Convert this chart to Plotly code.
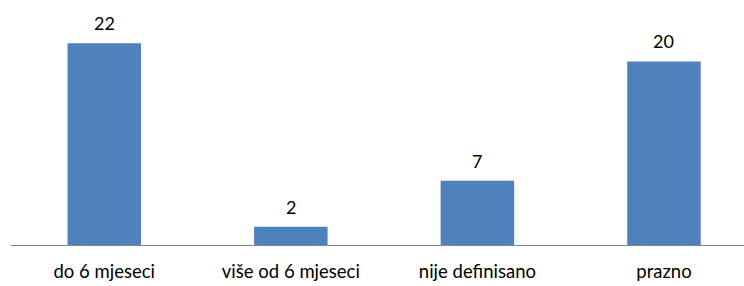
import plotly.graph_objects as go

categories = ["do 6 mjeseci", "više od 6 mjeseci", "nije definisano", "prazno"]
values = [22, 2, 7, 20]

fig = go.Figure()
fig.add_trace(go.Bar(
    x=categories, y=values,
    marker=dict(color="#4F81BD", line=dict(width=0)),
    width=0.394,
))
for c, v in zip(categories, values):
    fig.add_annotation(x=c, y=v, text=str(v), showarrow=False, yshift=20,
                       font=dict(family="Lato", size=18, color="#000000"))

fig.update_layout(
    width=744, height=286,
    margin=dict(l=11, r=0, t=0, b=41, pad=0, autoexpand=False),
    paper_bgcolor="white", plot_bgcolor="white",
    showlegend=False,
    font=dict(family="Lato", size=18, color="#000000"),
    xaxis=dict(range=[-0.5, 3.429], showline=True, linecolor="#868686", linewidth=1,
               showgrid=False, zeroline=False, ticks="", tickfont=dict(size=18.5),
               automargin=False, ticklabelstandoff=10),
    yaxis=dict(range=[0, 26.7], visible=False, showgrid=False, zeroline=False,
               automargin=False),
)
fig.write_html("out.html", config={"displayModeBar": False},
               post_script="document.body.style.margin='0';document.body.style.overflow='hidden';")
